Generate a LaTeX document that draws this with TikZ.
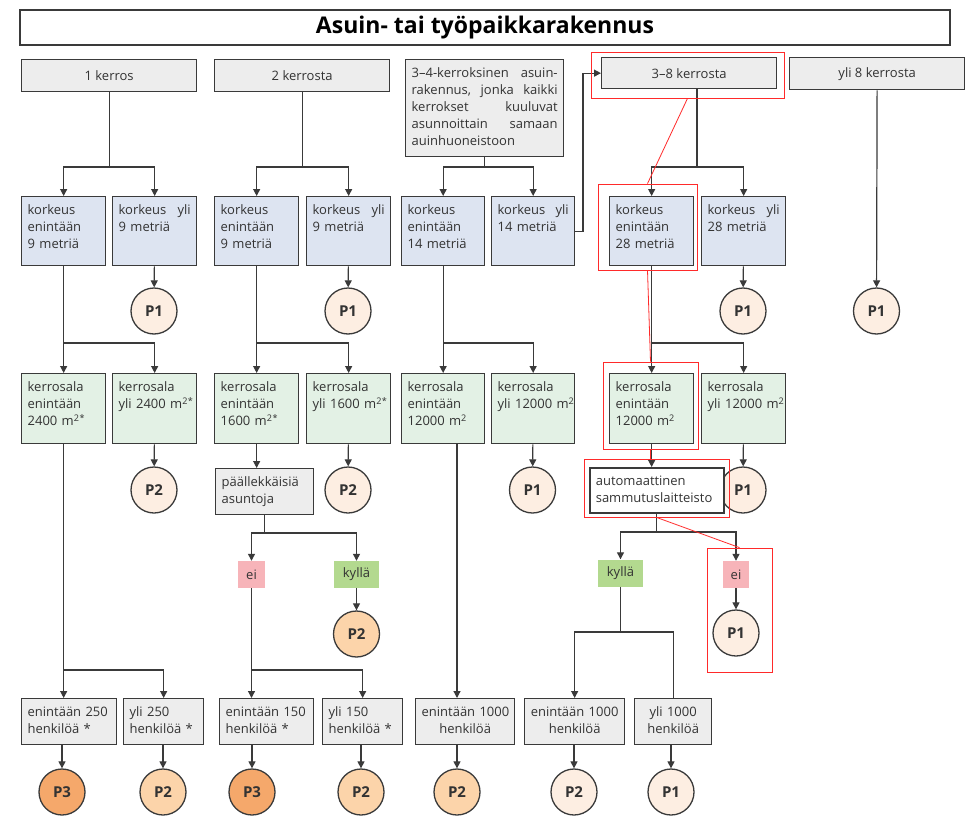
\documentclass[tikz,border=0pt]{standalone}
\usepackage{fontspec}
\setmainfont{Open Sans}
\usetikzlibrary{arrows.meta,fit}

\definecolor{frame}{HTML}{3A3A3A}
\definecolor{ink}{HTML}{333333}
\definecolor{hdrgray}{HTML}{EDEDED}
\definecolor{lblue}{HTML}{DDE4F1}
\definecolor{lgreen}{HTML}{E3F1E5}
\definecolor{tagpink}{HTML}{F7B4B9}
\definecolor{taggreen}{HTML}{B3D98F}
\definecolor{plight}{HTML}{FDEEE2}
\definecolor{pmid}{HTML}{FCD4AA}
\definecolor{pdark}{HTML}{F5A86B}
\definecolor{hlred}{HTML}{FF2A2A}

\newcommand{\fillline}[1]{\leavevmode\hbox to\hsize{#1}}
\newcommand{\sqm}{m\textsuperscript{2}}

\tikzset{
  box/.style={draw=frame, line width=1.3pt, text=ink, anchor=north west, align=left,
    inner xsep=6pt, inner ysep=5pt, text height=13pt, font=\fontsize{13}{17}\selectfont},
  cell/.style 2 args={box, minimum width=#1, text width=#1-12pt, text depth=#2-23pt},
  hdr/.style={draw=frame, line width=1.3pt, fill=hdrgray, text=ink, anchor=north west,
    minimum width=175pt, minimum height=#1, inner sep=0pt, font=\fontsize{13}{17}\selectfont},
  hgtbox/.style={cell={#1}{69pt}, fill=lblue},
  hgtbox/.default=84pt,
  areabox/.style={cell={#1}{70pt}, fill=lgreen},
  areabox/.default=84pt,
  occbox/.style={cell={#1}{46pt}, fill=hdrgray},
  tag/.style={fill=#1, text=ink, minimum height=27pt, inner sep=0pt, font=\fontsize{13}{17}\selectfont},
  circ/.style={circle, draw=frame, line width=1.3pt, fill=#1, minimum size=46pt, inner sep=0pt,
    text=ink, font=\bfseries\fontsize{15}{17}\selectfont},
  arr/.style={draw=frame, line width=1.2pt, -{Triangle[length=7pt,width=7pt]}},
  link/.style={draw=frame, line width=1.2pt},
  hl/.style={draw=hlred, line width=0.8pt, inner sep=0pt},
  hlline/.style={draw=hlred, line width=0.8pt}
}

\begin{document}
\begin{tikzpicture}[x=1pt, y=-1pt]
  \useasboundingbox (0,0) rectangle (969,816);
  \fill[white] (0,0) rectangle (969,816);

  \node[draw=frame, line width=1.5pt, minimum width=930pt, minimum height=35pt,
    font=\bfseries\fontsize{23}{26}\selectfont, text=black] (title) at (485,27.5) {Asuin- tai työpaikkarakennus};

  % kerrosluku
  \node[hdr=32pt] (h1) at (21,59) {1 kerros};
  \node[hdr=32pt] (h2) at (214,59) {2 kerrosta};
  \node[cell={158pt}{97pt}, fill=hdrgray] (h3) at (405,59)
    {\fillline{3–4-kerroksinen\hfill asuin-}\\\fillline{rakennus,\hfill jonka\hfill kaikki}\\
     \fillline{kerrokset\hfill kuuluvat}\\\fillline{asunnoittain\hfill samaan}\\auinhuoneistoon};
  \node[hdr=31pt] (h4) at (601,57) {3–8 kerrosta};
  \node[hdr=32pt] (h5) at (789,57) {yli 8 kerrosta};

  % korkeus
  \node[hgtbox] (k1a) at (21,196) {korkeus\\enintään\\9 metriä};
  \node[hgtbox] (k1b) at (112,196) {\fillline{korkeus\hfill yli}\\9 metriä};
  \node[hgtbox] (k2a) at (214,196) {korkeus\\enintään\\9 metriä};
  \node[hgtbox] (k2b) at (306,196) {\fillline{korkeus\hfill yli}\\9 metriä};
  \node[hgtbox=83pt] (k3a) at (401,196) {korkeus\\enintään\\14 metriä};
  \node[hgtbox=83pt] (k3b) at (491,196) {\fillline{korkeus\hfill yli}\\14 metriä};
  \node[hgtbox] (k4a) at (609,196) {korkeus\\enintään\\28 metriä};
  \node[hgtbox] (k4b) at (701,196) {\fillline{korkeus\hfill yli}\\28 metriä};

  \node[circ=plight] (p1b) at (154,311) {P1};
  \node[circ=plight] (p2b) at (348,311) {P1};
  \node[circ=plight] (p4b) at (743,311) {P1};
  \node[circ=plight] (p5) at (876.5,311) {P1};

  % kerrosala
  \node[areabox] (a1a) at (21,373) {kerrosala\\enintään\\2400~\sqm\textsuperscript{*}};
  \node[areabox] (a1b) at (112,373) {kerrosala\\yli~2400~\sqm\textsuperscript{*}};
  \node[areabox] (a2a) at (214,373) {kerrosala\\enintään\\1600~\sqm\textsuperscript{*}};
  \node[areabox] (a2b) at (306,373) {kerrosala\\yli~1600~\sqm\textsuperscript{*}};
  \node[areabox=83pt] (a3a) at (401,373) {kerrosala\\enintään\\12000~\sqm};
  \node[areabox=83pt] (a3b) at (491,373) {kerrosala\\yli~12000~\sqm};
  \node[areabox] (a4a) at (609,373) {kerrosala\\enintään\\12000~\sqm};
  \node[areabox] (a4b) at (701,373) {kerrosala\\yli~12000~\sqm};

  \node[circ=plight] (q1b) at (154,490) {P2};
  \node[circ=plight] (q2b) at (348,490) {P2};
  \node[circ=plight] (q3b) at (532.5,490) {P1};
  \node[circ=plight] (q4b) at (743,490) {P1};

  \node[cell={98pt}{46pt}, fill=hdrgray] (pa) at (215,468) {päällekkäisiä\\asuntoja};
  \node[cell={134pt}{45pt}, fill=white, line width=1.6pt] (au) at (589,467) {automaattinen\\sammutuslaitteisto};

  \node[tag=tagpink, minimum width=27pt] (ei2) at (251.5,574.5) {ei};
  \node[tag=taggreen, minimum width=45pt] (ky2) at (356.5,574.5) {kyllä};
  \node[tag=taggreen, minimum width=45pt] (ky4) at (620.5,573) {kyllä};
  \node[tag=tagpink, minimum width=26pt] (ei4) at (736,574.5) {ei};
  \node[circ=pmid] (r2) at (356.5,634) {P2};
  \node[circ=plight] (r4) at (736,633) {P1};

  % henkilomaara
  \node[occbox=95pt] (n1a) at (21,698) {enintään~250\\henkilöä *};
  \node[occbox=80pt] (n1b) at (123,698) {yli 250\\henkilöä *};
  \node[occbox=94pt] (n2a) at (219,698) {enintään~150\\henkilöä *};
  \node[occbox=80pt] (n2b) at (322,698) {yli 150\\henkilöä *};
  \node[occbox=99pt, align=center] (n3) at (415,698) {enintään~1000\\henkilöä};
  \node[occbox=100pt, align=center] (n4a) at (524,698) {enintään~1000\\henkilöä};
  \node[occbox=77pt, align=center] (n4b) at (634,698) {yli 1000\\henkilöä};

  \node[circ=pdark] (s1a) at (62,792) {P3};
  \node[circ=pmid] (s1b) at (163,792) {P2};
  \node[circ=pdark] (s2a) at (252,792) {P3};
  \node[circ=pmid] (s2b) at (361,792) {P2};
  \node[circ=pmid] (s3) at (457,792) {P2};
  \node[circ=plight] (s4a) at (574,792) {P2};
  \node[circ=plight] (s4b) at (671,792) {P1};

  % yhteydet
  \foreach \col in {1,2,3} {
    \draw[arr] (h\col.south) -- (h\col.south |- 0,167) -| (k\col a.north);
    \draw[arr] (h\col.south |- 0,167) -| (k\col b.north);
  }
  \draw[arr] (h4.south -| 697,0) -- (697,167) -| (k4a.north);
  \draw[arr] (697,167) -| (k4b.north);
  \draw[arr] (h5) -- (p5);
  \draw[arr] (k3b.east) -- (k3b.east -| 583,0) |- (h4.west);

  \foreach \col in {1,2,3,4} {
    \draw[arr] (k\col a.south) -- (a\col a.north);
    \draw[arr] (k\col a.south |- 0,343) -| (a\col b.north);
  }
  \foreach \n/\p in {k1b/p1b, k2b/p2b, k4b/p4b, a1b/q1b, a2b/q2b, a3b/q3b, a4b/q4b, ky2/r2, ei4/r4}
    \draw[arr] (\n) -- (\p);

  \draw[arr] (a2a.south) -- (a2a.south |- pa.north);
  \draw[arr] (pa.south) -- (pa.south |- 0,533) -| (ei2.north);
  \draw[arr] (pa.south |- 0,533) -| (ky2.north);
  \draw[arr] (ei2.south) -- (ei2.south |- n2a.north);
  \draw[arr] (ei2.south |- 0,670) -| (n2b.north);

  \draw[arr] (a1a.south) -- (a1a.south |- n1a.north);
  \draw[arr] (a1a.south |- 0,670) -| (n1b.north);
  \draw[arr] (a3a.south -| s3) -- (s3 |- n3.north);

  \draw[arr] (a4a.south) -- (a4a.south |- au.north);
  \draw[arr] (au.south) -- (au.south |- 0,532) -| (ky4.north);
  \draw[arr] (au.south |- 0,532) -| (ei4.north);
  \draw[arr] (ky4.south) -- (ky4.south |- 0,632) -| (n4a.north);
  \draw[link] (ky4.south |- 0,632) -| (n4b.north);

  \foreach \n/\s in {n1a/s1a, n1b/s1b, n2a/s2a, n2b/s2b, n3/s3, n4a/s4a, n4b/s4b}
    \draw[arr] (\s.north |- \n.south) -- (\s.north);

  % korostukset
  \node[hl, fit={(591,52) (784,98)}] (f1) {};
  \node[hl, fit={(598,184) (697,270)}] (f2) {};
  \node[hl, fit={(603,362) (698,449)}] (f3) {};
  \node[hl, fit={(584,459) (729,517)}] (f4) {};
  \node[hl, fit={(707,548) (772,672)}] (f5) {};
  \draw[hlline] (f1.south) -- (f2.north);
  \draw[hlline] (f2.south) -- (f3.north);
  \draw[hlline] (f3.south) -- (f3.south |- f4.north);
  \draw[hlline] (f4.south) -- (f5.north);
\end{tikzpicture}
\end{document}
